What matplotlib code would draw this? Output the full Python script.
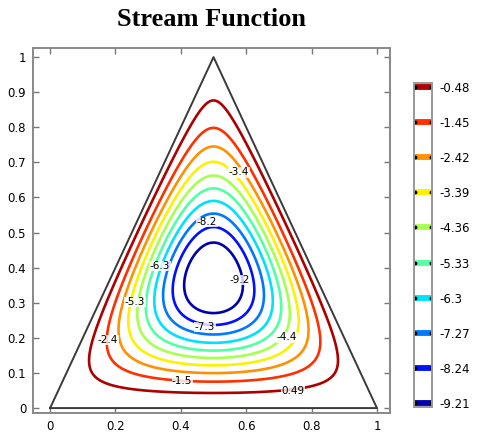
import numpy as np
import matplotlib
matplotlib.use("Agg")
import matplotlib.pyplot as plt

# contour levels shown in the legend bar (stream function values)
levels = [-9.21, -8.24, -7.27, -6.3, -5.33, -4.36, -3.39, -2.42, -1.45, -0.48]
level_text = ["-9.21", "-8.24", "-7.27", "-6.3", "-5.33", "-4.36", "-3.39", "-2.42", "-1.45", "-0.48"]

# inline labels on the contours and where they sit
label_text = ["-9.2", "-8.2", "-7.3", "-6.3", "-5.3", "-4.4", "-3.4", "-2.4", "-1.5", "0.49"]
label_x = [0.58, 0.48, 0.474, 0.336, 0.26, 0.725, 0.578, 0.177, 0.404, 0.743]
label_y = [0.365, 0.53, 0.231, 0.405, 0.302, 0.202, 0.672, 0.194, 0.077, 0.048]

# triangular cavity
tri_x = [0, 1, 0.5, 0]
tri_y = [0, 0, 1, 0]

xticks = [0, 0.2, 0.4, 0.6, 0.8, 1]
xticklabels = ["0", "0.2", "0.4", "0.6", "0.8", "1"]
yticks = [0, 0.1, 0.2, 0.3, 0.4, 0.5, 0.6, 0.7, 0.8, 0.9, 1]
yticklabels = ["0", "0.1", "0.2", "0.3", "0.4", "0.5", "0.6", "0.7", "0.8", "0.9", "1"]

# stream function field shape (fitted by eye to the picture)
psi_min = -10.34
side_exp = 0.627
sum_exp = 0.254
lift = -1.16
prof_exp = 2.266

x = np.linspace(0, 1, 600)
y = np.linspace(0, 1, 600)
X, Y = np.meshgrid(x, y)
l2 = (2 * X - Y) / 2
l3 = (2 - 2 * X - Y) / 2
inside = (l2 > 0) & (l3 > 0) & (Y > 0)
l2c = np.clip(l2, 1e-9, None)
l3c = np.clip(l3, 1e-9, None)
f = Y * (l2c * l3c) ** side_exp / (l2c + l3c) ** sum_exp * np.exp(lift * Y)
f = np.where(inside, f, 0)
g = f / f.max()
psi = psi_min * g ** prof_exp
psi = np.where(inside, psi, np.nan)

cmap = plt.get_cmap("jet")
cmin, cmax = -9.6, -0.1

fig = plt.figure(figsize=(4.8, 4.4), dpi=100)
ax = fig.add_axes([0.069, 0.0614, 0.7435, 0.8296])

cs = ax.contour(X, Y, psi, levels=levels, cmap=cmap, vmin=cmin, vmax=cmax,
                linewidths=1.9)
for tx, ty, t in zip(label_x, label_y, label_text):
    ax.text(tx, ty, t, fontsize=7.5, ha="center", va="center", color="k",
            bbox=dict(facecolor="white", edgecolor="none", pad=0.3, alpha=0.8))

ax.plot(tri_x, tri_y, color="#3a3a3a", lw=1.4)

ax.set_xlim(-0.052, 1.04)
ax.set_ylim(-0.014, 1.026)
ax.set_xticks(xticks)
ax.set_xticklabels(xticklabels)
ax.set_yticks(yticks)
ax.set_yticklabels(yticklabels)
ax.tick_params(direction="in", top=True, right=True, length=4, width=1, color="#777777",
               labelsize=8.5, pad=5)
for s in ax.spines.values():
    s.set_color("#888888")
    s.set_linewidth(1.4)
ax.set_title("Stream Function", fontfamily="Liberation Serif", fontweight="bold",
             fontsize=19, pad=16)

# legend bar with one mark per level
cax = fig.add_axes([0.8625, 0.075, 0.0375, 0.736])
for lev in levels:
    c = cmap((lev - cmin) / (cmax - cmin))
    cax.plot([0, 1], [lev, lev], color=c, lw=4.2, solid_capstyle="butt")
    cax.plot([0.03, 0.97], [lev, lev], ls="none", marker="o", ms=1.8, color="k")
cax.set_xlim(0, 1)
cax.set_ylim(levels[0] - 0.1, levels[-1] + 0.1)
cax.set_xticks([])
cax.yaxis.tick_right()
cax.set_yticks(levels)
cax.set_yticklabels(level_text)
cax.tick_params(length=0, labelsize=8.5, pad=5)
for s in cax.spines.values():
    s.set_color("#999999")
    s.set_linewidth(1.4)

fig.savefig("out.png", dpi=100)
